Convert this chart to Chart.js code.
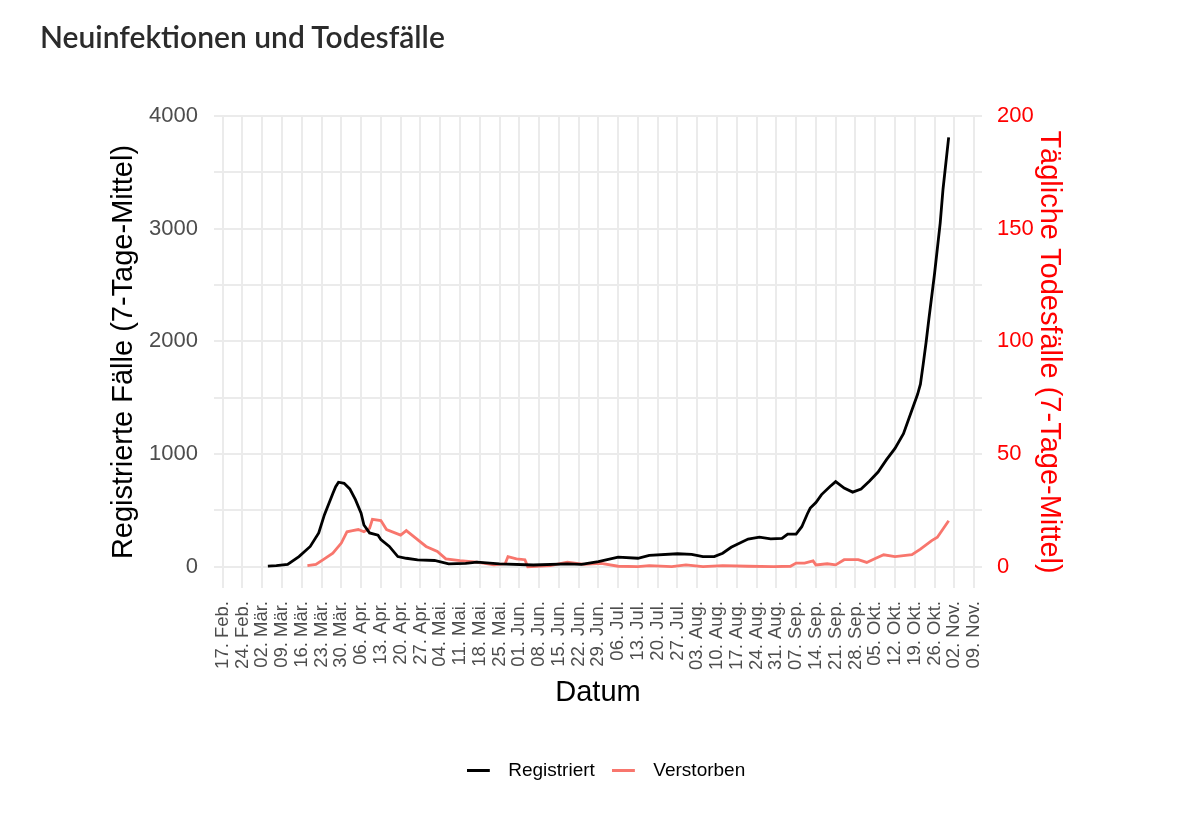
<!DOCTYPE html>
<html lang="de">
<head>
<meta charset="utf-8">
<title>Neuinfektionen und Todesfälle</title>
<script src="https://cdn.jsdelivr.net/npm/chart.js@4"></script>
<style>
  body { margin: 0; background: #fff; }
  #wrap { position: relative; width: 1200px; height: 833px; }
  #titel { position: absolute; left: 40px; top: 18px; font: 600 30px Lato, sans-serif; color: #2b2b2b; }
</style>
</head>
<body>
<div id="wrap">
  <div id="titel">Neuinfektionen und Todesfälle</div>
  <canvas id="chart" width="1200" height="833"></canvas>
</div>
<script>
// Tage gezählt ab Mo, 17.02.2020 (Tag 0)
const registriertTag = [16, 19, 23, 27, 31, 34, 36, 39, 40, 41, 43, 45, 47, 49, 50, 52, 55, 56, 59, 62, 65, 69, 75, 80, 86, 90, 98, 110, 122, 127, 133, 140, 147, 151, 161, 166, 170, 174, 177, 180, 186, 190, 194, 198, 200, 203, 205, 207, 208, 210, 212, 215, 217, 220, 223, 226, 229, 232, 235, 238, 241, 244, 246, 247, 248, 249, 250, 252, 254, 255, 257];
const registriertWert = [5, 10, 20, 90, 180, 300, 460, 650, 710, 750, 740, 690, 595, 475, 370, 300, 280, 240, 180, 90, 75, 60, 55, 25, 30, 40, 25, 15, 25, 20, 45, 85, 75, 100, 115, 110, 90, 90, 120, 172, 245, 262, 247, 252, 290, 290, 355, 470, 520, 570, 640, 712, 755, 698, 662, 690, 760, 840, 950, 1050, 1180, 1390, 1530, 1620, 1800, 1990, 2200, 2600, 3050, 3350, 3810];

const verstorbenTag = [30, 33, 36, 39, 42, 44, 46, 48, 50, 52, 53, 56, 58, 63, 65, 68, 72, 76, 79, 84, 90, 96, 100, 101, 104, 107, 108, 116, 122, 128, 134, 140, 147, 151, 159, 164, 170, 177, 186, 195, 201, 203, 206, 209, 210, 214, 217, 220, 225, 228, 231, 234, 238, 244, 247, 251, 253, 257];
const verstorbenWert = [0.5, 1, 3.5, 6, 10.5, 15.5, 16, 16.5, 15.5, 17, 21, 20.5, 16.5, 14, 16, 13, 9, 6.8, 3.5, 2.7, 2, 0.8, 1.3, 4.5, 3.5, 3.1, 0, 0.5, 2, 1, 1.5, 0.2, 0, 0.5, 0, 0.8, 0, 0.5, 0.2, 0, 0.2, 1.6, 1.6, 2.6, 0.8, 1.3, 0.8, 3.1, 3.1, 1.9, 3.6, 5.3, 4.5, 5.3, 7.8, 11.6, 13.1, 20.4];

// Wochen-Ticks (alle 7 Tage ab Tag 0)
const datumLabels = ['17. Feb.', '24. Feb.', '02. Mär.', '09. Mär.', '16. Mär.', '23. Mär.', '30. Mär.', '06. Apr.', '13. Apr.', '20. Apr.', '27. Apr.', '04. Mai.', '11. Mai.', '18. Mai.', '25. Mai.', '01. Jun.', '08. Jun.', '15. Jun.', '22. Jun.', '29. Jun.', '06. Jul.', '13. Jul.', '20. Jul.', '27. Jul.', '03. Aug.', '10. Aug.', '17. Aug.', '24. Aug.', '31. Aug.', '07. Sep.', '14. Sep.', '21. Sep.', '28. Sep.', '05. Okt.', '12. Okt.', '19. Okt.', '26. Okt.', '02. Nov.', '09. Nov.'];

// Gitterlinien links alle 500, beschriftet nur die Tausender
const faelleTicks = [0, 500, 1000, 1500, 2000, 2500, 3000, 3500, 4000];
const todesTicks = [0, 50, 100, 150, 200];

const grau = '#4d4d4d';
const gitter = '#ebebeb';
const schrift = "'Liberation Sans', Arial, Helvetica, sans-serif";

// kleiner Strich fuer die Legende, rechts etwas Luft bis zum Text
function legendStrich(farbe) {
    const c = document.createElement('canvas');
    c.width = 32;
    c.height = 3;
    const g = c.getContext('2d');
    g.fillStyle = farbe;
    g.fillRect(0, 0, 23, 3);
    return c;
}

function punkte(tage, werte) {
    return tage.map((t, i) => ({ x: t, y: werte[i] }));
}

const ctx = document.getElementById('chart').getContext('2d');
const chart = new Chart(ctx, {
    type: 'line',
    data: {
        datasets: [
            {
                label: 'Registriert',
                data: punkte(registriertTag, registriertWert),
                borderColor: '#000000',
                backgroundColor: '#000000',
                borderWidth: 2.8,
                pointRadius: 0,
                pointStyle: legendStrich('#000000'),
                tension: 0,
                yAxisID: 'y',
            },
            {
                label: 'Verstorben',
                data: punkte(verstorbenTag, verstorbenWert),
                borderColor: '#f8766d',
                backgroundColor: '#f8766d',
                borderWidth: 2.8,
                pointRadius: 0,
                pointStyle: legendStrich('#f8766d'),
                tension: 0,
                yAxisID: 'y1',
            },
        ],
    },
    options: {
        responsive: false,
        animation: false,
        layout: { padding: { top: 116, bottom: 43, left: 12, right: 0 } },
        scales: {
            x: {
                type: 'linear',
                position: 'bottom',
                min: -3.07,
                max: 268.8,
                border: { display: false },
                grid: { color: gitter, lineWidth: 2, drawTicks: false },
                ticks: {
                    stepSize: 7,
                    includeBounds: false,
                    autoSkip: false,
                    minRotation: 90,
                    maxRotation: 90,
                    padding: 13,
                    color: grau,
                    font: { family: schrift, size: 18.5 },
                    callback: (v) => datumLabels[Math.round(v / 7)] ?? '',
                },
                title: {
                    display: true,
                    text: 'Datum',
                    color: '#000',
                    font: { family: schrift, size: 29 },
                    padding: { top: 0, bottom: 34 },
                },
                afterFit: (s) => { s.height = 156; },
            },
            y: {
                position: 'left',
                min: -189,
                max: 4000,
                border: { display: false },
                grid: { color: gitter, lineWidth: 2, drawTicks: false },
                afterBuildTicks: (s) => { s.ticks = faelleTicks.map(v => ({ value: v })); },
                ticks: {
                    autoSkip: false,
                    padding: 16,
                    color: grau,
                    font: { family: schrift, size: 22 },
                    callback: (v) => (v % 1000 === 0 ? String(v) : ''),
                },
                title: {
                    display: true,
                    text: 'Registrierte Fälle (7-Tage-Mittel)',
                    color: '#000',
                    font: { family: schrift, size: 29 },
                    padding: { top: 95, bottom: 0 },
                },
                afterFit: (s) => { s.width = 202; },
            },
            y1: {
                position: 'right',
                min: -9.45,
                max: 200,
                border: { display: false },
                grid: { display: false },
                afterBuildTicks: (s) => { s.ticks = todesTicks.map(v => ({ value: v })); },
                ticks: {
                    autoSkip: false,
                    padding: 7,
                    color: '#ff0000',
                    font: { family: schrift, size: 22 },
                    callback: (v) => String(v),
                },
                title: {
                    display: true,
                    text: 'Tägliche Todesfälle (7-Tage-Mittel)',
                    color: '#ff0000',
                    font: { family: schrift, size: 29 },
                    padding: { top: 134, bottom: 0 },
                },
                afterFit: (s) => { s.width = 218; },
            },
        },
        plugins: {
            legend: {
                display: true,
                position: 'bottom',
                labels: {
                    usePointStyle: true,
                    pointStyleWidth: 32,
                    padding: 17,
                    color: '#000',
                    font: { family: schrift, size: 19 },
                },
            },
            tooltip: { enabled: false },
        },
    },
});
</script>
</body>
</html>
